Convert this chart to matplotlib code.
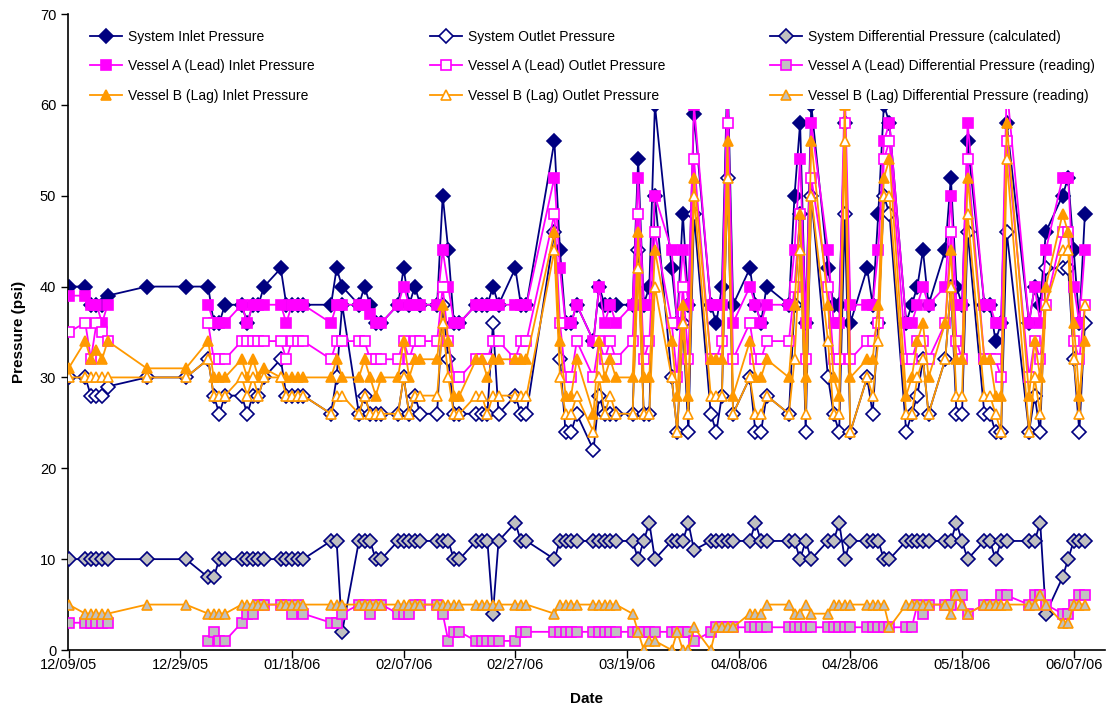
import matplotlib
matplotlib.use("Agg")
import matplotlib.pyplot as plt
from matplotlib.patches import Rectangle
from matplotlib.legend import Legend
import numpy as np
import pandas as pd

plt.rcParams['font.family'] = ['Liberation Sans', 'DejaVu Sans']

nan = np.nan

dates = [
    "2005-12-09",
    "2005-12-12", "2005-12-13", "2005-12-14", "2005-12-15", "2005-12-16",
    "2005-12-23", "2005-12-30",
    "2006-01-03", "2006-01-04", "2006-01-05", "2006-01-06",
    "2006-01-09", "2006-01-10", "2006-01-11", "2006-01-12", "2006-01-13",
    "2006-01-16", "2006-01-17", "2006-01-18", "2006-01-19", "2006-01-20",
    "2006-01-25", "2006-01-26", "2006-01-27",
    "2006-01-30", "2006-01-31", "2006-02-01", "2006-02-02", "2006-02-03",
    "2006-02-06", "2006-02-07", "2006-02-08", "2006-02-09", "2006-02-10",
    "2006-02-13", "2006-02-14", "2006-02-15", "2006-02-16", "2006-02-17",
    "2006-02-20", "2006-02-21", "2006-02-22", "2006-02-23", "2006-02-24",
    "2006-02-27", "2006-02-28", "2006-03-01",
    "2006-03-06", "2006-03-07", "2006-03-08", "2006-03-09", "2006-03-10",
    "2006-03-13", "2006-03-14", "2006-03-15", "2006-03-16", "2006-03-17",
    "2006-03-20", "2006-03-21", "2006-03-22", "2006-03-23", "2006-03-24",
    "2006-03-27", "2006-03-28", "2006-03-29", "2006-03-30", "2006-03-31",
    "2006-04-03", "2006-04-04", "2006-04-05", "2006-04-06", "2006-04-07",
    "2006-04-10", "2006-04-11", "2006-04-12", "2006-04-13",
    "2006-04-17", "2006-04-18", "2006-04-19", "2006-04-20", "2006-04-21",
    "2006-04-24", "2006-04-25", "2006-04-26", "2006-04-27", "2006-04-28",
    "2006-05-01", "2006-05-02", "2006-05-03", "2006-05-04", "2006-05-05",
    "2006-05-08", "2006-05-09", "2006-05-10", "2006-05-11", "2006-05-12",
    "2006-05-15", "2006-05-16", "2006-05-17", "2006-05-18", "2006-05-19",
    "2006-05-22", "2006-05-23", "2006-05-24", "2006-05-25", "2006-05-26",
    "2006-05-30", "2006-05-31", "2006-06-01", "2006-06-02",
    "2006-06-05", "2006-06-06", "2006-06-07", "2006-06-08", "2006-06-09",
]

sys_inlet = [40,
             40, 38, 38, 38, 39,
             40, 40,
             40, 36, 36, 38,
             38, 36, 38, 38, 40,
             42, 38, 38, 38, 38,
             38, 42, 40,
             38, 40, 38, 36, 36,
             38, 42, 38, 40, 38,
             38, 50, 44, 36, 36,
             38, 38, 38, 40, 38,
             42, 38, 38,
             56, 44, 36, 36, 38,
             34, 40, 38, 38, 38,
             38, 54, 38, 40, 60,
             42, 36, 48, 38, 59,
             38, 36, 40, 64, 38,
             42, 38, 36, 40,
             38, 50, 58, 36, 60,
             42, 38, 38, 58, 36,
             42, 38, 48, 60, 58,
             36, 38, 40, 44, 38,
             44, 52, 40, 38, 56,
             38, 38, 34, 36, 58,
             36, 40, 38, 46,
             50, 52, 44, 36, 48]

sys_outlet = [30,
              30, 28, 28, 28, 29,
              30, 30,
              32, 28, 26, 28,
              28, 26, 28, 28, 30,
              32, 28, 28, 28, 28,
              26, 30, 38,
              26, 28, 26, 26, 26,
              26, 30, 26, 28, 26,
              26, 38, 32, 26, 26,
              26, 26, 26, 36, 26,
              28, 26, 26,
              46, 32, 24, 24, 26,
              22, 28, 26, 26, 26,
              26, 44, 26, 26, 50,
              30, 24, 36, 24, 48,
              26, 24, 28, 52, 26,
              30, 24, 24, 28,
              26, 38, 48, 24, 50,
              30, 26, 24, 48, 24,
              30, 26, 36, 50, 48,
              24, 26, 28, 32, 26,
              32, 40, 26, 26, 46,
              26, 26, 24, 24, 46,
              24, 28, 24, 42,
              42, 42, 32, 24, 36]

sys_diff = [10,
            10, 10, 10, 10, 10,
            10, 10,
            8, 8, 10, 10,
            10, 10, 10, 10, 10,
            10, 10, 10, 10, 10,
            12, 12, 2,
            12, 12, 12, 10, 10,
            12, 12, 12, 12, 12,
            12, 12, 12, 10, 10,
            12, 12, 12, 4, 12,
            14, 12, 12,
            10, 12, 12, 12, 12,
            12, 12, 12, 12, 12,
            12, 10, 12, 14, 10,
            12, 12, 12, 14, 11,
            12, 12, 12, 12, 12,
            12, 14, 12, 12,
            12, 12, 10, 12, 10,
            12, 12, 14, 10, 12,
            12, 12, 12, 10, 10,
            12, 12, 12, 12, 12,
            12, 12, 14, 12, 10,
            12, 12, 10, 12, 12,
            12, 12, 14, 4,
            8, 10, 12, 12, 12]

a_inlet = [39,
           39, 38, 38, 36, 38,
           nan, nan,
           38, 36, 36, 36,
           38, 36, 38, 38, 38,
           38, 36, 38, 38, 38,
           36, 38, 38,
           38, 38, 37, 36, 36,
           38, 40, 38, 38, 38,
           38, 44, 40, 36, 36,
           38, 38, 38, 38, 38,
           38, 38, 38,
           52, 42, 36, 36, 38,
           34, 40, 36, 38, 36,
           38, 52, 38, 38, 50,
           44, 36, 44, 38, 60,
           38, 38, 38, 62, 36,
           40, 38, 36, 38,
           38, 44, 54, 36, 58,
           44, 36, 36, 62, 38,
           38, 38, 44, 56, 58,
           36, 36, 38, 40, 38,
           40, 50, 38, 38, 58,
           38, 38, 36, 36, 62,
           36, 40, 36, 44,
           52, 52, 40, 36, 44]

a_outlet = [35,
            36, 32, 36, 35, 34,
            nan, nan,
            36, 32, 32, 32,
            34, 34, 34, 34, 34,
            34, 32, 34, 34, 34,
            32, 34, 34,
            34, 34, 32, 32, 32,
            32, 34, 32, 34, 34,
            34, 40, 34, 30, 30,
            32, 32, 32, 34, 34,
            32, 34, 34,
            48, 36, 30, 30, 34,
            30, 34, 32, 34, 32,
            34, 48, 32, 34, 46,
            36, 30, 40, 32, 54,
            32, 32, 34, 58, 32,
            36, 32, 32, 34,
            34, 40, 48, 32, 52,
            40, 32, 32, 58, 32,
            34, 34, 36, 54, 56,
            32, 32, 34, 34, 32,
            36, 46, 34, 32, 54,
            32, 32, 32, 30, 56,
            30, 34, 32, 38,
            46, 46, 34, 32, 38]

a_diff = [3,
          3, 3, 3, 3, 3,
          nan, nan,
          1, 2, 1, 1,
          3, 4, 4, 5, 5,
          5, 5, 4, 5, 4,
          3, 3, 4,
          5, 5, 4, 5, 5,
          4, 4, 4, 5, 5,
          5, 4, 1, 2, 2,
          1, 1, 1, 1, 1,
          1, 2, 2,
          2, 2, 2, 2, 2,
          2, 2, 2, 2, 2,
          2, 2, 2, 2, 2,
          2, 2, 2, 2, 1,
          2, 2.5, 2.5, 2.5, 2.5,
          2.5, 2.5, 2.5, 2.5,
          2.5, 2.5, 2.5, 2.5, 2.5,
          2.5, 2.5, 2.5, 2.5, 2.5,
          2.5, 2.5, 2.5, 2.5, 2.5,
          2.5, 2.5, 5, 4, 5,
          5, 5, 6, 6, 4,
          5, 5, 5, 6, 6,
          5, 6, 6, 5,
          4, 4, 5, 6, 6]

b_inlet = [31,
           34, 32, 33, 32, 34,
           31, 31,
           34, 30, 30, 30,
           32, 30, 32, 30, 31,
           30, 30, 30, 30, 30,
           30, 32, 30,
           30, 32, 30, 28, 30,
           30, 34, 30, 32, 32,
           32, 38, 34, 28, 28,
           32, 32, 30, 32, 32,
           32, 32, 32,
           46, 34, 28, 28, 32,
           26, 34, 30, 32, 30,
           30, 46, 30, 30, 44,
           34, 28, 38, 28, 52,
           32, 32, 32, 56, 28,
           34, 30, 30, 32,
           30, 38, 48, 30, 56,
           38, 30, 28, 60, 30,
           32, 32, 38, 52, 54,
           28, 30, 34, 36, 30,
           36, 44, 32, 32, 52,
           32, 32, 28, 28, 58,
           28, 34, 30, 40,
           48, 46, 36, 28, 34]

b_outlet = [30,
            30, 30, 30, 30, 30,
            30, 30,
            32, 28, 28, 28,
            30, 28, 30, 28, 30,
            30, 28, 28, 28, 28,
            26, 28, 28,
            26, 28, 26, 26, 26,
            26, 30, 26, 28, 28,
            28, 36, 30, 26, 26,
            28, 28, 26, 28, 28,
            28, 28, 28,
            44, 30, 26, 26, 28,
            24, 30, 26, 28, 26,
            26, 42, 26, 26, 40,
            30, 24, 36, 26, 50,
            28, 28, 28, 52, 26,
            30, 26, 26, 28,
            26, 32, 44, 26, 50,
            34, 26, 26, 56, 24,
            30, 28, 34, 50, 50,
            26, 26, 30, 32, 26,
            32, 40, 28, 28, 48,
            28, 28, 26, 24, 54,
            24, 30, 26, 38,
            44, 44, 32, 26, 38]

b_diff = [5,
          4, 4, 4, 4, 4,
          5, 5,
          4, 4, 4, 4,
          5, 5, 5, 5, 5,
          5, 5, 5, 5, 5,
          5, 5, 5,
          5, 5, 5, 5, 5,
          5, 5, 5, 5, 5,
          5, 5, 5, 5, 5,
          5, 5, 5, 5, 5,
          5, 5, 5,
          4, 5, 5, 5, 5,
          5, 5, 5, 5, 5,
          4, 2, 0, 1, 1,
          0, 2, 0, 0, 2.5,
          0, 2.5, 2.5, 2.5, 2.5,
          4, 4, 4, 5,
          5, 4, 4, 5, 4,
          4, 5, 5, 5, 5,
          5, 5, 5, 5, 2.5,
          5, 5, 5, 5, 5,
          5, 4, 6, 5, 4,
          5, 5, 5, 5, 5,
          5, 5, 6, 5,
          3, 3, 5, 5, 5]

tick_labels = ["12/09/05", "12/29/05", "01/18/06", "02/07/06", "02/27/06",
               "03/19/06", "04/08/06", "04/28/06", "05/18/06", "06/07/06"]

labels = ["System Inlet Pressure", "System Outlet Pressure",
          "System Differential Pressure (calculated)",
          "Vessel A (Lead) Inlet Pressure", "Vessel A (Lead) Outlet Pressure",
          "Vessel A (Lead) Differential Pressure (reading)",
          "Vessel B (Lag) Inlet Pressure", "Vessel B (Lag) Outlet Pressure",
          "Vessel B (Lag) Differential Pressure (reading)"]

x = pd.to_datetime(dates)
NAVY = "#000080"
MAG = "#FF00FF"
ORA = "#FF9900"
GREY = "#C0C0C0"

W, H = 1115, 717
L, R, T, B = 68, 1105, 14, 650
fig = plt.figure(figsize=(W / 100, H / 100), dpi=100)
ax = fig.add_axes([L / W, 1 - B / H, (R - L) / W, (B - T) / H])


def ax_x(px):
    return (px - L) / (R - L)


def ax_y(py):
    return (B - py) / (B - T)


series = [
    (sys_inlet, NAVY, "D", NAVY, 6.8),
    (sys_outlet, NAVY, "D", "white", 6.8),
    (sys_diff, NAVY, "D", GREY, 6.8),
    (a_inlet, MAG, "s", MAG, 6.8),
    (a_outlet, MAG, "s", "white", 6.8),
    (a_diff, MAG, "s", GREY, 6.8),
    (b_inlet, ORA, "^", ORA, 7.8),
    (b_outlet, ORA, "^", "white", 7.8),
    (b_diff, ORA, "^", GREY, 7.8),
]
handles = []
for i, (vals, col, mk, fc, ms) in enumerate(series):
    h, = ax.plot(x, np.array(vals, dtype=float), color=col, lw=1.3, marker=mk,
                 markersize=ms, markerfacecolor=fc, markeredgecolor=col,
                 markeredgewidth=1.2, label=labels[i], zorder=2 + i)
    handles.append(h)

t0 = pd.Timestamp("2005-12-09")
ticks = [t0 + pd.Timedelta(days=20 * k) for k in range(len(tick_labels))]
ax.set_xticks(ticks)
ax.set_xticklabels(tick_labels, fontsize=10.5)
ax.set_xlim(t0 - pd.Timedelta(days=0.1), t0 + pd.Timedelta(days=185.6))
ax.set_ylim(0, 70)
ax.set_yticks(range(0, 71, 10))
ax.tick_params(axis="y", labelsize=10.5, direction="out", length=5, width=1)
ax.tick_params(axis="x", direction="out", length=6, width=1, pad=0)
for s in ["top", "right"]:
    ax.spines[s].set_visible(False)
for s in ["left", "bottom"]:
    ax.spines[s].set_linewidth(1.2)

ax.set_ylabel("Pressure (psi)", fontsize=11, fontweight="bold", labelpad=10)
ax.set_xlabel("Date", fontsize=11, fontweight="bold", labelpad=14)

# white legend area (covers lines underneath, as in the original)
ax.add_patch(Rectangle((ax_x(80), ax_y(109)), ax_x(1095) - ax_x(80),
                       ax_y(20) - ax_y(109), transform=ax.transAxes,
                       facecolor="white", edgecolor="none", zorder=15,
                       clip_on=False))

columns = [[0, 3, 6], [1, 4, 7], [2, 5, 8]]
col_x = [90, 430, 770]
for cx, idxs in zip(col_x, columns):
    lg = Legend(ax, [handles[i] for i in idxs], [labels[i] for i in idxs],
                loc="upper left", bbox_to_anchor=(ax_x(cx), ax_y(30)),
                bbox_transform=ax.transAxes,
                fontsize=10, frameon=False, handlelength=2.3,
                handletextpad=0.45, labelspacing=1.1, borderpad=0.0,
                borderaxespad=0.0)
    lg.set_zorder(20)
    ax.add_artist(lg)

fig.savefig("out.png", dpi=100)
